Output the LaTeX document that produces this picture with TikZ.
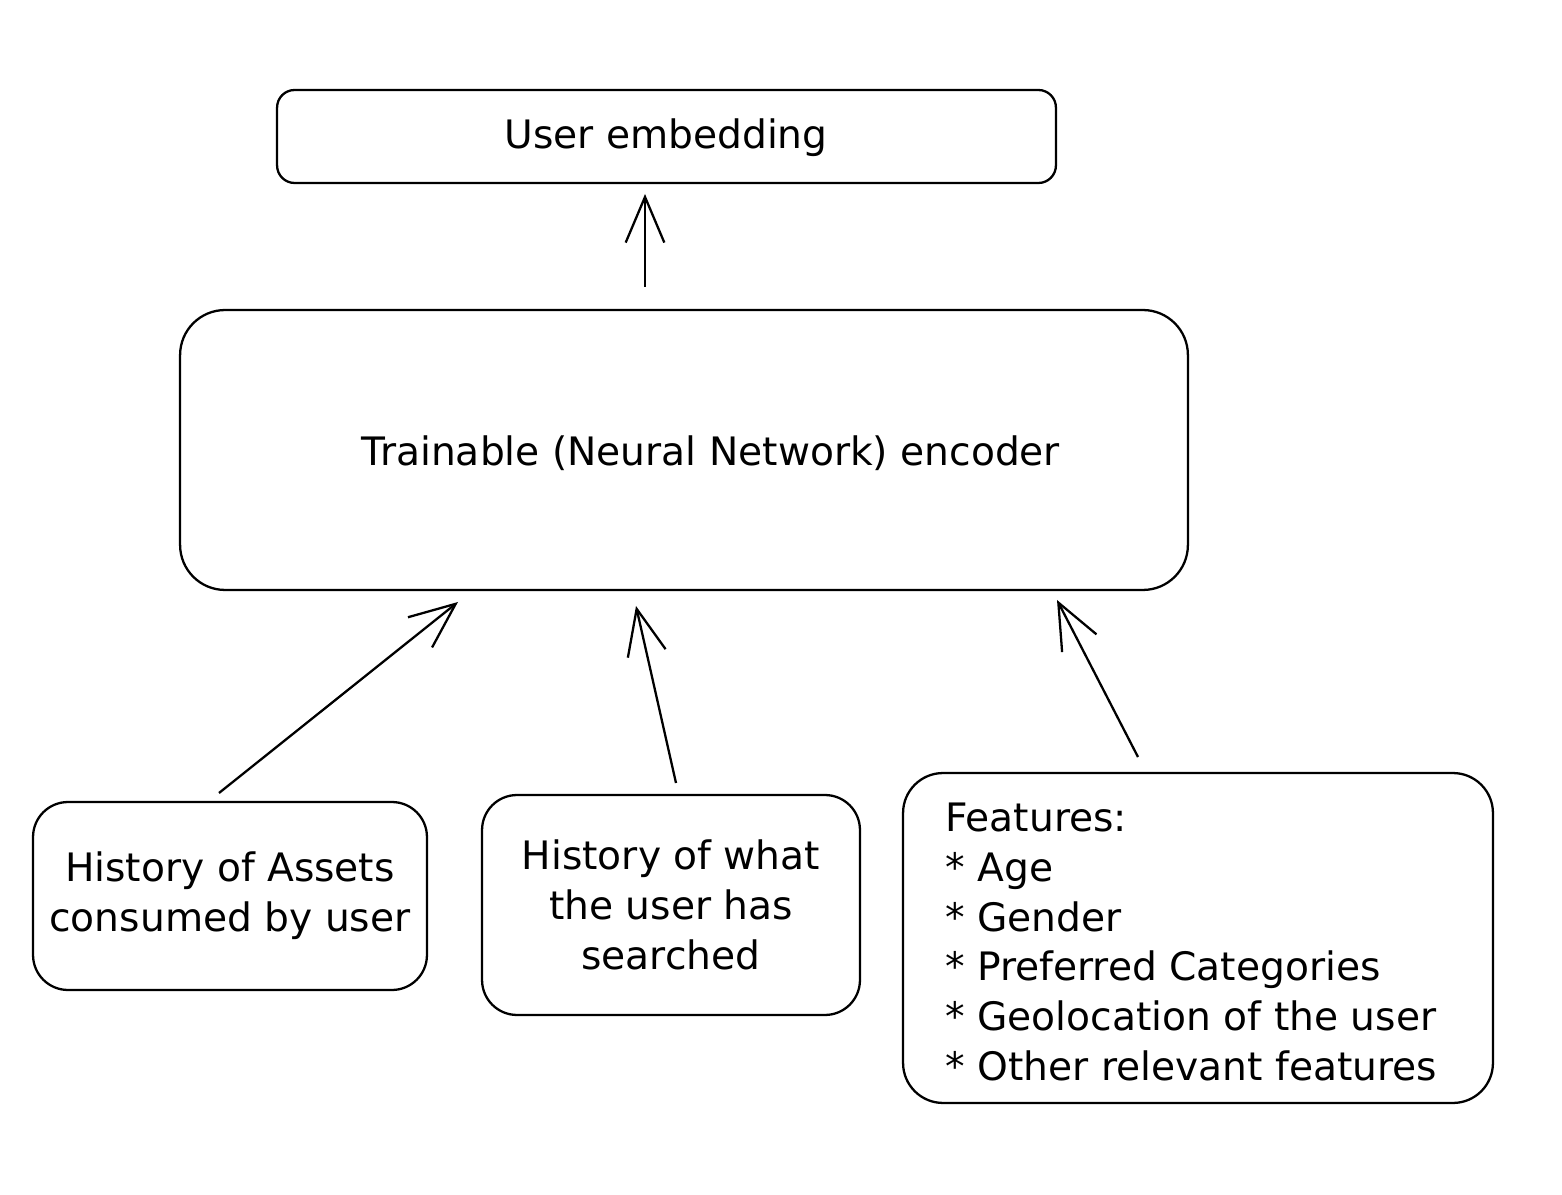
\documentclass[tikz,border=0pt]{standalone}
\usepackage{fontspec}
\setmainfont{DejaVu Sans}
\usetikzlibrary{arrows.meta}
\begin{document}
\begin{tikzpicture}[x=0.02cm,y=-0.02cm,
  box/.style={draw, line width=1.3pt, rounded corners=0.5cm, inner sep=0pt},
  txt/.style={font=\fontsize{22.3pt}{28.35pt}\selectfont, align=center, inner sep=0pt},
  arr/.style={line width=1.3pt, -{Straight Barb[length=26pt,width=22pt,line width=1.3pt]}}]
\useasboundingbox (0,0) rectangle (1562,1195);
\fill[white] (0,0) rectangle (1562,1195);
% boxes
\node[box, rounded corners=0.35cm, minimum width=15.58cm, minimum height=1.86cm] (emb) at (666.5,136.5) {};
\node[txt] (embt) at (666,138) {User embedding};
\node[box, rounded corners=0.9cm, minimum width=20.16cm, minimum height=5.6cm] (enc) at (684,450) {};
\node[txt] (enct) at (711,453) {Trainable (Neural Network) encoder};
\node[box, rounded corners=0.7cm, minimum width=7.88cm, minimum height=3.76cm, txt, draw, line width=1.3pt] (b1) at (230,896) {History of Assets\\consumed by user};
\node[box, rounded corners=0.7cm, minimum width=7.56cm, minimum height=4.4cm, txt, draw, line width=1.3pt] (b2) at (671,905) {History of what\\the user has\\searched};
\node[box, rounded corners=0.8cm, minimum width=11.8cm, minimum height=6.6cm] (b3) at (1198,938) {};
\node[txt, align=left, anchor=west] (b3t) at (945,942) {Features:\\* Age\\* Gender\\* Preferred Categories\\* Geolocation of the user\\* Other relevant features};
% arrows
\coordinate (a0s) at (645,287);
\coordinate (a0e) at (645,194);
\coordinate (a1s) at (219,793);
\coordinate (a1e) at (458,602);
\coordinate (a2s) at (676,783);
\coordinate (a2e) at (636,606);
\coordinate (a3s) at (1138,757);
\coordinate (a3e) at (1057,600);
\draw[arr] (a0s) -- (a0e);
\draw[arr] (a1s) -- (a1e);
\draw[arr] (a2s) -- (a2e);
\draw[arr] (a3s) -- (a3e);
\end{tikzpicture}
\end{document}
